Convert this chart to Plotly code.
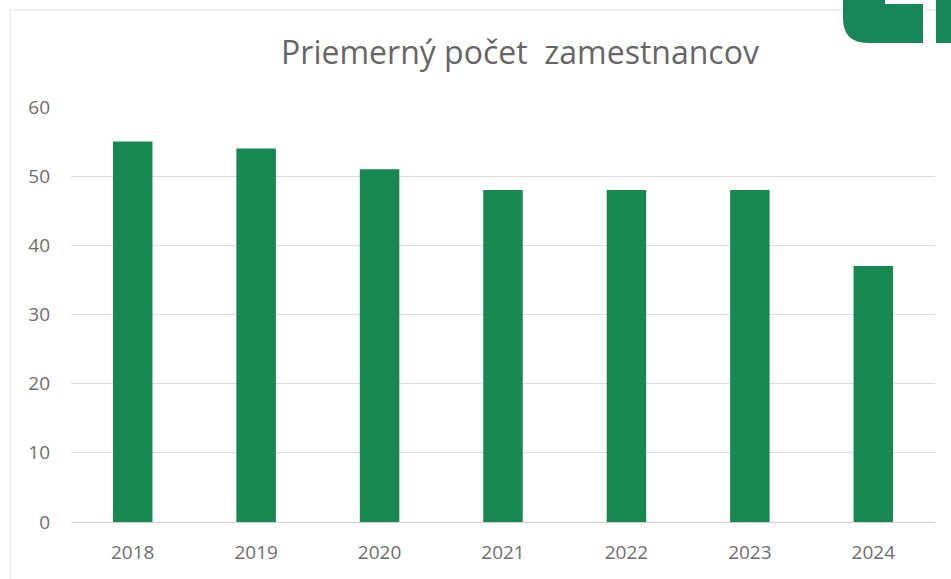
import plotly.graph_objects as go

years = ["2018", "2019", "2020", "2021", "2022", "2023", "2024"]
employees = [55, 54, 51, 48, 48, 48, 37]
y_ticks = [0, 10, 20, 30, 40, 50, 60]

W, H = 951, 579
ML, MR, MT, MB = 71, 16, 107, 57
PW, PH = W - ML - MR, H - MT - MB

def px(x):
    return (x - ML) / PW

def py(y):
    return (H - MB - y) / PH

def P(x, y):
    return f"{px(x):.5f},{py(y):.5f}"

fig = go.Figure(go.Bar(
    x=years, y=employees,
    marker=dict(color="#17884f", line=dict(width=0)),
    width=0.32,
))

GREEN_LOGO = "#17875a"
shapes = []
# chart frame lines (left and top)
shapes.append(dict(type="line", xref="paper", yref="paper",
                   x0=px(10), x1=px(10), y0=py(10), y1=py(579),
                   line=dict(color="#e0e0e0", width=1)))
shapes.append(dict(type="line", xref="paper", yref="paper",
                   x0=px(10), x1=px(951), y0=py(10), y1=py(10),
                   line=dict(color="#e0e0e0", width=1)))
# logo fragment in top-right corner
logo = (f"M {P(843,0)} L {P(885,0)} L {P(885,4)} L {P(923,4)} L {P(923,43)} "
        f"L {P(868,43)} Q {P(843,43)} {P(843,18)} Z")
shapes.append(dict(type="path", xref="paper", yref="paper", path=logo,
                   fillcolor=GREEN_LOGO, line=dict(width=0), layer="above"))
shapes.append(dict(type="rect", xref="paper", yref="paper",
                   x0=px(936), x1=px(951), y0=py(0), y1=py(43),
                   fillcolor=GREEN_LOGO, line=dict(width=0), layer="above"))

fig.update_layout(
    width=W, height=H,
    margin=dict(l=ML, r=MR, t=MT, b=MB),
    paper_bgcolor="white", plot_bgcolor="white",
    font=dict(family="Open Sans", color="#666666"),
    title=dict(text="Priemerný počet  zamestnancov", x=520 / W, xanchor="center",
               y=1 - 53 / H, yanchor="middle",
               font=dict(size=32, color="#666666", family="Open Sans")),
    showlegend=False,
    bargap=0.68,
    shapes=shapes,
)
fig.update_xaxes(
    showgrid=False, showline=True, linecolor="#cfcfcf", linewidth=1,
    ticks="", tickfont=dict(size=19, color="#6e6e6e"), ticklabelstandoff=13,
)
fig.update_yaxes(
    range=[0, 60], tickvals=y_ticks, showgrid=True, gridcolor="#dcdcdc",
    gridwidth=1, zeroline=False, showline=False, ticks="",
    tickfont=dict(size=19, color="#6e6e6e"), ticklabelstandoff=20,
)

fig.write_html("out.html", config={"displayModeBar": False},
               post_script="document.body.style.margin='0';document.body.style.padding='0';")
